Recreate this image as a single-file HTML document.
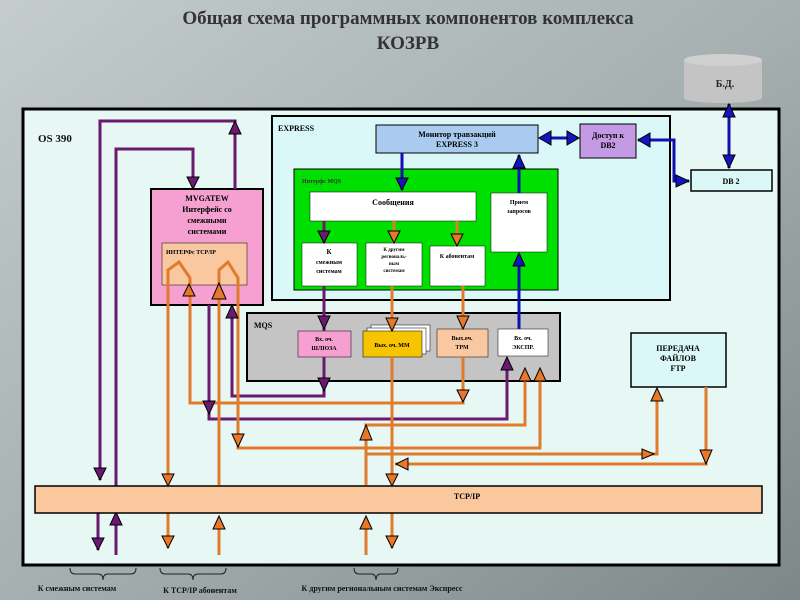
<!DOCTYPE html>
<html><head><meta charset="utf-8"><style>
html,body{margin:0;padding:0;width:800px;height:600px;overflow:hidden;background:#9aa3a3}
svg{display:block}
text{font-family:"Liberation Serif","Noto Serif CJK SC",serif;font-weight:bold}
</style></head><body>
<svg width="800" height="600" viewBox="0 0 800 600" xmlns="http://www.w3.org/2000/svg">
<defs>
<linearGradient id="bg" x1="0" y1="0" x2="1" y2="1">
<stop offset="0" stop-color="#c4cccc"/><stop offset="0.5" stop-color="#a6b0b0"/><stop offset="1" stop-color="#7d8787"/>
</linearGradient>
</defs>
<rect width="800" height="600" fill="url(#bg)"/>
<text x="408" y="24" font-size="19" text-anchor="middle" fill="#333" font-family="Liberation Sans, sans-serif">Общая схема программных компонентов комплекса</text>
<text x="408" y="49" font-size="19" text-anchor="middle" fill="#333" font-family="Liberation Sans, sans-serif">КОЗРВ</text>
<!-- DB cylinder -->
<rect x="684" y="60" width="78" height="38" fill="#c4c4c4"/>
<ellipse cx="723" cy="98" rx="39" ry="5" fill="#c4c4c4"/>
<ellipse cx="723" cy="60" rx="39" ry="6" fill="#d0d0d0"/>
<text x="725" y="87" font-size="10" text-anchor="middle" fill="#222">Б.Д.</text>
<!-- main panel -->
<rect x="23" y="109" width="756" height="456" fill="#e6f7f4" stroke="#000" stroke-width="3"/>
<text x="38" y="142" font-size="11" fill="#111" font-family="Liberation Sans, sans-serif">OS 390</text>
<!-- EXPRESS -->
<rect x="272" y="116" width="398" height="184" fill="#dbf8f8" stroke="#000" stroke-width="2"/>
<text x="278" y="131" font-size="8" fill="#000">EXPRESS</text>
<rect x="376" y="125" width="162" height="28" fill="#a9cbef" stroke="#000" stroke-width="1"/>
<text x="457" y="137" font-size="8" text-anchor="middle">Монитор травзакций</text>
<text x="457" y="147" font-size="8" text-anchor="middle">EXPRESS 3</text>
<rect x="580" y="124" width="56" height="34" fill="#c39ae3" stroke="#000" stroke-width="1"/>
<text x="608" y="138" font-size="8" text-anchor="middle">Доступ к</text>
<text x="608" y="148" font-size="8" text-anchor="middle">DB2</text>
<rect x="691" y="170" width="81" height="21" fill="#dbf8f8" stroke="#000" stroke-width="1.5"/>
<text x="731" y="184" font-size="8" text-anchor="middle">DB 2</text>
<!-- green -->
<rect x="294" y="169" width="264" height="121" fill="#00e000" stroke="#000" stroke-width="1"/>
<text x="302" y="183" font-size="6" fill="#333" font-weight="normal">Интерфс MQS</text>
<rect x="310" y="192" width="166" height="29" fill="#fff" stroke="#000" stroke-width="0.5"/>
<text x="393" y="205" font-size="8" text-anchor="middle">Сообщения</text>
<rect x="491" y="193" width="56" height="59" fill="#fff" stroke="#000" stroke-width="0.5"/>
<text x="519" y="204" font-size="6" text-anchor="middle" font-weight="normal">Прием</text>
<text x="519" y="213" font-size="6" text-anchor="middle" font-weight="normal">запросов</text>
<rect x="302" y="243" width="55" height="43" fill="#fff" stroke="#000" stroke-width="0.5"/>
<text x="329" y="254" font-size="7" text-anchor="middle" font-weight="normal">К</text>
<text x="329" y="264" font-size="6" text-anchor="middle" font-weight="normal">смежным</text>
<text x="329" y="273" font-size="6" text-anchor="middle" font-weight="normal">системам</text>
<rect x="366" y="243" width="56" height="43" fill="#fff" stroke="#000" stroke-width="0.5"/>
<text x="394" y="251" font-size="5" text-anchor="middle" font-weight="normal">К другим</text>
<text x="394" y="258" font-size="5" text-anchor="middle" font-weight="normal">региональ-</text>
<text x="394" y="265" font-size="5" text-anchor="middle" font-weight="normal">ным</text>
<text x="394" y="272" font-size="5" text-anchor="middle" font-weight="normal">системам</text>
<rect x="430" y="246" width="55" height="40" fill="#fff" stroke="#000" stroke-width="0.5"/>
<text x="457" y="258" font-size="6" text-anchor="middle" font-weight="normal">К абонентам</text>
<!-- MVGATEW -->
<rect x="151" y="189" width="112" height="116" fill="#f5a0d0" stroke="#000" stroke-width="2"/>
<text x="207" y="201" font-size="8" text-anchor="middle">MVGATEW</text>
<text x="207" y="212" font-size="8" text-anchor="middle">Интерфейс со</text>
<text x="207" y="223" font-size="8" text-anchor="middle">смежными</text>
<text x="207" y="234" font-size="8" text-anchor="middle">системами</text>
<rect x="162" y="243" width="85" height="42" fill="#f9c8a0" stroke="#000" stroke-width="0.5"/>
<text x="166" y="254" font-size="6" font-weight="normal">ИНТЕРФс TCP/IP</text>
<!-- MQS -->
<rect x="247" y="313" width="313" height="68" fill="#c4c4c4" stroke="#000" stroke-width="2"/>
<text x="254" y="328" font-size="8">MQS</text>
<rect x="298" y="331" width="53" height="26" fill="#f5a0d0" stroke="#000" stroke-width="0.5"/>
<text x="324" y="341" font-size="6" text-anchor="middle" font-weight="normal">Вх. оч.</text>
<text x="324" y="350" font-size="6" text-anchor="middle" font-weight="normal">ШЛЮЗА</text>
<rect x="371" y="325" width="59" height="26" fill="#fff" stroke="#000" stroke-width="0.5"/>
<rect x="367" y="328" width="59" height="26" fill="#fff" stroke="#000" stroke-width="0.5"/>
<rect x="363" y="331" width="59" height="26" fill="#f6c400" stroke="#000" stroke-width="0.5"/>
<text x="392" y="347" font-size="6" text-anchor="middle" font-weight="normal">Вых. оч. ММ</text>
<rect x="437" y="329" width="51" height="28" fill="#f9c8a0" stroke="#000" stroke-width="0.5"/>
<text x="462" y="340" font-size="6" text-anchor="middle" font-weight="normal">Вых.оч.</text>
<text x="462" y="349" font-size="6" text-anchor="middle" font-weight="normal">ТРМ</text>
<rect x="498" y="329" width="50" height="27" fill="#fff" stroke="#000" stroke-width="0.5"/>
<text x="523" y="340" font-size="6" text-anchor="middle" font-weight="normal">Вх. оч.</text>
<text x="523" y="349" font-size="6" text-anchor="middle" font-weight="normal">ЭКСПР.</text>
<!-- FTP -->
<rect x="631" y="333" width="95" height="54" fill="#dbf8f8" stroke="#000" stroke-width="1.5"/>
<text x="678" y="351" font-size="8" text-anchor="middle">ПЕРЕДАЧА</text>
<text x="678" y="361" font-size="8" text-anchor="middle">ФАЙЛОВ</text>
<text x="678" y="371" font-size="8" text-anchor="middle">FTP</text>

<!-- lines -->
<g fill="none" stroke-width="3">
<path d="M235,189 V121 H100 V480" stroke="#6a1a6f"/>
<path d="M193,180 V149 H116 V486" stroke="#6a1a6f"/>
<path d="M324,357 V396 H232 V305" stroke="#6a1a6f"/>
<path d="M507,363 V419 H209 V305" stroke="#6a1a6f"/>
<path d="M98,513 V550" stroke="#6a1a6f"/>
<path d="M116,518 V555" stroke="#6a1a6f"/>
<g stroke="#e07b2c">
<path d="M168,485 V270 L179,262 L190,278 V290"/>
<path d="M190,285 V403 H463 V357"/>
<path d="M219,485 V270 L228,262 L238,278 V448 H540 V370"/>
<path d="M525,370 V425 H366 V485"/>
<path d="M392,357 V485"/>
<path d="M366,454 H657 V390"/>
<path d="M706,387 V464 H395"/>
<path d="M168,513 V548"/>
<path d="M219,518 V555"/>
<path d="M366,518 V555"/>
<path d="M392,513 V548"/>
<path d="M394,221 V243"/>
<path d="M457,221 V246"/>
<path d="M392,286 V331"/>
<path d="M463,286 V329"/>
</g>
<path d="M324,221 V243" stroke="#6a1a6f"/>
<path d="M324,286 V331" stroke="#6a1a6f"/>
<g stroke="#1010b0">
<path d="M402,153 V190"/>
<path d="M519,193 V155"/>
<path d="M519,329 V254"/>
<path d="M540,138 H578"/>
<path d="M638,140 H674 V181 H689"/>
<path d="M729,104 V168"/>
</g>
</g>
<!-- arrowheads -->
<g stroke="#000" stroke-width="1">
<g fill="#6a1a6f">
<polygon points="229,134 241,134 235,121"/>
<polygon points="187,177 199,177 193,189"/>
<polygon points="94,468 106,468 100,480"/>
<polygon points="318,316 330,316 324,329"/>
<polygon points="318,378 330,378 324,391"/>
<polygon points="226,318 238,318 232,305"/>
<polygon points="203,401 215,401 209,414"/>
<polygon points="501,370 513,370 507,357"/>
<polygon points="318,231 330,231 324,243"/>
<polygon points="92,538 104,538 98,550"/>
<polygon points="110,525 122,525 116,512"/>
</g>
<g fill="#e8772a">
<polygon points="183,296 195,296 189,284"/>
<polygon points="212,299 226,299 219,283"/>
<polygon points="162,474 174,474 168,486"/>
<polygon points="457,390 469,390 463,402"/>
<polygon points="232,434 244,434 238,447"/>
<polygon points="534,381 546,381 540,368"/>
<polygon points="519,381 531,381 525,368"/>
<polygon points="360,440 372,440 366,425"/>
<polygon points="386,474 398,474 392,486"/>
<polygon points="651,401 663,401 657,388"/>
<polygon points="700,450 712,450 706,464"/>
<polygon points="642,449 642,459 654,454"/>
<polygon points="408,458 408,470 396,464"/>
<polygon points="162,536 174,536 168,548"/>
<polygon points="213,529 225,529 219,516"/>
<polygon points="360,529 372,529 366,516"/>
<polygon points="386,536 398,536 392,548"/>
<polygon points="388,231 400,231 394,243"/>
<polygon points="451,234 463,234 457,246"/>
<polygon points="386,318 398,318 392,331"/>
<polygon points="457,316 469,316 463,329"/>
</g>
<g fill="#1414c0">
<polygon points="396,178 408,178 402,190"/>
<polygon points="513,168 525,168 519,155"/>
<polygon points="513,266 525,266 519,253"/>
<polygon points="551,131 551,145 539,138"/>
<polygon points="567,131 567,145 579,138"/>
<polygon points="650,133 650,147 638,140"/>
<polygon points="676,175 676,187 689,181"/>
<polygon points="723,117 735,117 729,104"/>
<polygon points="723,155 735,155 729,168"/>
</g>
</g>
<rect x="35" y="486" width="727" height="27" fill="#fbc79c" stroke="#000" stroke-width="1.5"/>
<text x="467" y="499" font-size="8" text-anchor="middle">TCP/IP</text>
<g fill="none" stroke="#222" stroke-width="1">
<path d="M70,568 q0,6 5,6 h23 q5,0 5,6 q0,-6 5,-6 h23 q5,0 5,-6"/>
<path d="M160,568 q0,6 5,6 h23 q5,0 5,6 q0,-6 5,-6 h23 q5,0 5,-6"/>
<path d="M354,568 q0,6 5,6 h12 q5,0 5,6 q0,-6 5,-6 h12 q5,0 5,-6"/>
</g>
<text x="77" y="591" font-size="8" text-anchor="middle" fill="#111">К смежным системам</text>
<text x="200" y="593" font-size="8" text-anchor="middle" fill="#111">К TCP/IP абонентам</text>
<text x="382" y="591" font-size="8" text-anchor="middle" fill="#111">К другим региональным системам Экспресс</text>
</svg>
</body></html>
